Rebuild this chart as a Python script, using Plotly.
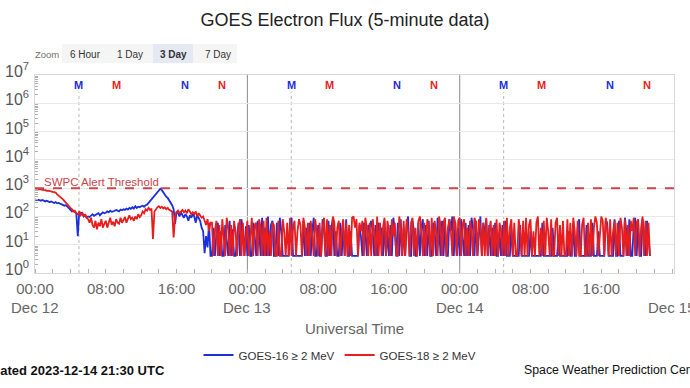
import pandas as pd
import plotly.graph_objects as go

# ---------------- data ----------------
START = "2023-12-12 00:00"
STEP = "10min"

# GOES-16 >= 2 MeV electron flux (pfu), 10-minute samples
goes16 = [
    400, 380, 390, 370, 360, 380,
    350, 340, 360, 330, 320, 340,
    310, 300, 320, 290, 300, 280,
    270, 260, 240, 250, 220, 200,
    180, 150, 160, 140, 130, 20,
    150, 120, 140, 100, 110, 90,
    100, 95, 110, 120, 105, 115,
    120, 130, 110, 125, 140, 130,
    135, 150, 140, 160, 145, 150,
    155, 170, 160, 150, 175, 165,
    180, 170, 190, 175, 200, 185,
    210, 190, 230, 200, 220, 210,
    230, 240, 220, 250, 260, 300,
    350, 400, 450, 500, 600, 720,
    800, 950, 850, 700, 600, 500,
    450, 380, 300, 250, 180, 55,
    150, 130, 100, 140, 110, 90,
    120, 100, 70, 110, 90, 120,
    100, 60, 110, 90, 70, 40,
    30, 5, 20, 8, 60, 4,
    4, 40, 4, 25, 60, 4,
    30, 4, 4, 50, 10, 4,
    70, 4, 35, 4, 4, 20,
    60, 4, 80, 30, 4, 45,
    4, 50, 4, 4, 60, 20,
    4, 70, 30, 4, 90, 4,
    40, 4, 100, 4, 50, 70,
    4, 4, 60, 4, 90, 30,
    4, 4, 4, 4, 4, 60,
    90, 4, 4, 4, 4, 4,
    4, 4, 70, 4, 40, 4,
    60, 4, 30, 90, 4, 4,
    50, 4, 4, 80, 30, 4,
    4, 70, 4, 40, 90, 4,
    30, 4, 4, 60, 4, 40,
    4, 80, 4, 4, 30, 4,
    4, 4, 4, 4, 50, 20,
    4, 60, 30, 4, 50, 40,
    70, 30, 4, 50, 4, 60,
    20, 40, 4, 70, 4, 30,
    4, 50, 4, 90, 30, 4,
    60, 4, 80, 4, 40, 4,
    50, 100, 4, 4, 70, 30,
    4, 4, 60, 4, 40, 80,
    4, 50, 4, 70, 4, 4,
    60, 30, 4, 90, 40, 4,
    70, 4, 50, 4, 4, 80,
    30, 100, 4, 60, 4, 40,
    4, 80, 20, 4, 60, 4,
    50, 4, 90, 40, 4, 70,
    4, 30, 100, 4, 60, 20,
    80, 4, 50, 4, 40, 4,
    60, 4, 4, 30, 4, 50,
    4, 70, 4, 4, 4, 40,
    4, 4, 4, 4, 4, 50,
    4, 4, 4, 4, 4, 4,
    30, 4, 4, 4, 4, 4,
    4, 4, 60, 4, 4, 4,
    4, 4, 4, 40, 4, 4,
    4, 20, 4, 4, 4, 4,
    4, 4, 30, 4, 4, 60,
    4, 4, 40, 80, 4, 4,
    4, 4, 50, 4, 4, 4,
    60, 4, 4, 4, 30, 4,
    4, 4, 4, 70, 60, 4,
    4, 4, 4, 80, 4, 4,
    70, 4, 4, 4, 90, 30,
    4, 80, 4, 4, 50, 90,
    4, 60, 4, 4, 80, 30,
    4, 70, 20, 4,
]

# GOES-18 >= 2 MeV electron flux (pfu), 10-minute samples
goes18 = [
    1000, 950, 900, 920, 880, 870,
    860, 850, 800, 820, 780, 760,
    740, 720, 700, 600, 550, 500,
    450, 400, 350, 300, 250, 220,
    200, 180, 150, 160, 130, 120,
    140, 110, 130, 100, 120, 90,
    80, 60, 90, 50, 40, 70,
    35, 60, 45, 80, 40, 55,
    70, 40, 60, 90, 50, 65,
    45, 80, 60, 55, 90, 60,
    75, 95, 60, 85, 110, 80,
    90, 70, 100, 80, 120, 95,
    110, 150, 130, 180, 160, 200,
    170, 190, 16, 150, 180, 210,
    230, 200, 220, 190, 210, 180,
    200, 170, 160, 150, 18, 100,
    140, 160, 130, 150, 170, 140,
    160, 130, 180, 150, 120, 140,
    120, 150, 100, 130, 110, 90,
    100, 70, 50, 80, 30, 60,
    60, 4, 30, 70, 4, 50,
    4, 80, 20, 4, 90, 40,
    4, 50, 4, 70, 30, 4,
    40, 80, 4, 60, 4, 20,
    70, 4, 30, 90, 4, 50,
    60, 4, 80, 40, 4, 70,
    4, 90, 4, 30, 4, 60,
    50, 4, 4, 70, 4, 4,
    80, 30, 4, 60, 4, 90,
    4, 40, 70, 4, 30, 80,
    50, 4, 90, 40, 4, 60,
    4, 70, 20, 4, 80, 30,
    4, 60, 4, 40, 90, 4,
    80, 4, 50, 4, 100, 60,
    4, 40, 70, 4, 30, 80,
    4, 60, 4, 50, 4, 90,
    100, 40, 80, 4, 60, 30,
    70, 4, 90, 40, 4, 60,
    4, 80, 30, 4, 100, 4,
    60, 4, 40, 90, 4, 70,
    30, 4, 80, 20, 60, 4,
    4, 100, 40, 4, 70, 4,
    80, 30, 4, 60, 90, 4,
    40, 4, 70, 100, 30, 4,
    60, 4, 80, 40, 4, 90,
    4, 70, 30, 4, 100, 50,
    4, 60, 90, 4, 40, 80,
    30, 4, 100, 60, 4, 70,
    90, 4, 50, 80, 4, 40,
    4, 70, 30, 4, 90, 60,
    4, 80, 40, 4, 60, 4,
    90, 4, 30, 70, 4, 50,
    4, 80, 4, 60, 30, 4,
    70, 4, 90, 4, 40, 80,
    4, 60, 4, 4, 80, 30,
    4, 70, 4, 90, 4, 50,
    80, 4, 30, 4, 60, 100,
    4, 40, 4, 70, 4, 90,
    30, 4, 80, 4, 4, 60,
    90, 4, 50, 4, 70, 4,
    4, 80, 4, 60, 4, 90,
    30, 4, 70, 4, 4, 50,
    90, 4, 4, 60, 4, 80,
    4, 40, 100, 60, 4, 30,
    100, 70, 4, 90, 40, 4,
    80, 4, 30, 70, 4, 60,
    4, 90, 40, 4, 80, 4,
    50, 4, 70, 30, 90, 4,
    60, 80, 4, 40, 100, 4,
    70, 4, 60, 4,
]

alert_threshold = 1000

# magnetic midnight (M) / noon (N) markers: time, label, satellite
marker_times = [
    "2023-12-12 04:58", "2023-12-12 09:14", "2023-12-12 16:58", "2023-12-12 21:08",
    "2023-12-13 04:58", "2023-12-13 09:14", "2023-12-13 16:58", "2023-12-13 21:08",
    "2023-12-14 04:58", "2023-12-14 09:14", "2023-12-14 16:58", "2023-12-14 21:08",
]
marker_labels = ["M", "M", "N", "N"] * 3
marker_sats = ["16", "18", "16", "18"] * 3

day_lines = ["2023-12-13 00:00", "2023-12-14 00:00"]

tick_vals = [
    "2023-12-12 00:00", "2023-12-12 08:00", "2023-12-12 16:00",
    "2023-12-13 00:00", "2023-12-13 08:00", "2023-12-13 16:00",
    "2023-12-14 00:00", "2023-12-14 08:00", "2023-12-14 16:00",
    "2023-12-15 00:00",
]
tick_text = ["00:00", "08:00", "16:00"] * 3 + ["00:00"]
date_vals = ["2023-12-12 00:00", "2023-12-13 00:00", "2023-12-14 00:00", "2023-12-15 00:00"]
date_text = ["Dec 12", "Dec 13", "Dec 14", "Dec 15"]

y_decades = [0, 1, 2, 3, 4, 5, 6, 7]

zoom_buttons = ["6 Hour", "1 Day", "3 Day", "7 Day"]
selected_button = "3 Day"

# ---------------- layout helpers ----------------
W, H = 690, 388
ML, MR, MT, MB = 35, 16, 75, 115
PW, PH = W - ML - MR, H - MT - MB


def px(x):
    return (x - ML) / PW


def py(y):
    return (H - MB - y) / PH


BLUE = "#1c2fdc"
RED = "#e81e1e"
THRESH = "#c9464b"
FONT = "Liberation Sans, Arial, Helvetica, sans-serif"

t16 = pd.date_range(START, periods=len(goes16), freq=STEP)
t18 = pd.date_range(START, periods=len(goes18), freq=STEP)

fig = go.Figure()
fig.add_trace(go.Scatter(x=t16, y=goes16, mode="lines", name="GOES-16 ≥ 2 MeV",
                         line=dict(color=BLUE, width=1.8)))
fig.add_trace(go.Scatter(x=t18, y=goes18, mode="lines", name="GOES-18 ≥ 2 MeV",
                         line=dict(color=RED, width=1.8)))

shapes = []
for d in day_lines:
    shapes.append(dict(type="line", xref="x", yref="paper", x0=d, x1=d, y0=0, y1=1,
                       line=dict(color="#8a8a8a", width=1), layer="below"))
for t, lab, s in zip(marker_times, marker_labels, marker_sats):
    if s == "16" and lab == "M":
        shapes.append(dict(type="line", xref="x", yref="paper", x0=t, x1=t, y0=0, y1=py(92),
                           line=dict(color="#b8b8b8", width=1, dash="dot"), layer="below"))
shapes.append(dict(type="line", xref="paper", yref="y", x0=0, x1=1,
                   y0=alert_threshold, y1=alert_threshold,
                   line=dict(color=THRESH, width=2, dash="dash")))

# zoom button bar
shapes.append(dict(type="rect", xref="paper", yref="paper", x0=px(62), x1=px(237),
                   y0=py(63), y1=py(44), fillcolor="#f5f5f5", line=dict(width=0)))
btn_centers = [85, 130, 173, 218]
btn_halfw = [22, 18, 20, 18]
annotations = [dict(text="Zoom", xref="paper", yref="paper", x=px(47), y=py(54),
                    xanchor="center", yanchor="middle",
                    showarrow=False, font=dict(size=9.5, color="#707070", family=FONT))]
for lab, c, hw in zip(zoom_buttons, btn_centers, btn_halfw):
    if lab == selected_button:
        shapes.append(dict(type="rect", xref="paper", yref="paper", x0=px(c - hw), x1=px(c + hw),
                           y0=py(63), y1=py(44), fillcolor="#e4e9f4", line=dict(width=0)))
        txt = "<b>" + lab + "</b>"
    else:
        txt = lab
    annotations.append(dict(text=txt, xref="paper", yref="paper", x=px(c), y=py(54),
                            xanchor="center", yanchor="middle",
                            showarrow=False, font=dict(size=10, color="#333333", family=FONT)))

for t, lab, s in zip(marker_times, marker_labels, marker_sats):
    annotations.append(dict(text="<b>" + lab + "</b>", xref="x", yref="paper", x=t, y=py(85),
                            xanchor="center", yanchor="middle", showarrow=False,
                            font=dict(size=11, color=BLUE if s == "16" else RED, family=FONT)))

# y-axis decade labels (10^n), drawn slightly above their grid lines as in the original
for k in y_decades:
    annotations.append(dict(text="10<sup>%d</sup>" % k, xref="paper", yref="y", x=px(31), y=k,
                            xanchor="right", yanchor="middle", yshift=5, showarrow=False,
                            font=dict(size=16, color="#555555", family=FONT)))

# second line of date tick labels
for d, txt in zip(date_vals, date_text):
    annotations.append(dict(text=txt, xref="x", yref="paper", x=d, y=py(307),
                            xanchor="center", yanchor="middle", showarrow=False,
                            font=dict(size=15, color="#666666", family=FONT)))

annotations.append(dict(text="Universal Time", xref="paper", yref="paper", x=px(354), y=py(328),
                        xanchor="center", yanchor="middle", showarrow=False,
                        font=dict(size=15, color="#666666", family=FONT)))
annotations.append(dict(text="SWPC Alert Threshold", xref="paper", yref="y", x=px(42),
                        y=3, xanchor="left", yanchor="middle", yshift=6, showarrow=False,
                        font=dict(size=11.5, color=THRESH, family=FONT)))
annotations.append(dict(text="<b>Updated 2023-12-14 21:30 UTC</b>", xref="paper", yref="paper",
                        x=px(167), y=py(370), xanchor="right", yanchor="middle", showarrow=False,
                        font=dict(size=13, color="#111111", family=FONT)))
annotations.append(dict(text="Space Weather Prediction Center", xref="paper", yref="paper",
                        x=px(522), y=py(370), xanchor="left", yanchor="middle", showarrow=False,
                        font=dict(size=12.3, color="#111111", family=FONT)))

fig.update_layout(
    width=W, height=H,
    margin=dict(l=ML, r=MR, t=MT, b=MB, autoexpand=False),
    paper_bgcolor="white", plot_bgcolor="white",
    font=dict(family=FONT),
    title=dict(text="GOES Electron Flux (5-minute data)", x=0.5, xanchor="center",
               xref="container", y=1 - 20 / H, yanchor="middle",
               font=dict(size=18, color="#222222", family=FONT)),
    showlegend=True,
    legend=dict(orientation="h", x=px(340), xanchor="center", y=py(355), yanchor="middle",
                font=dict(size=11.5, color="#333333", family=FONT), itemwidth=30,
                bgcolor="rgba(0,0,0,0)"),
    shapes=shapes,
    annotations=annotations,
    hovermode=False,
)
fig.update_xaxes(
    type="date", range=["2023-12-12 00:00", "2023-12-15 00:13"],
    tickmode="array", tickvals=tick_vals, ticktext=tick_text,
    tickfont=dict(size=15, color="#666666", family=FONT), ticklabelstandoff=2,
    showgrid=False, zeroline=False, automargin=False,
    showline=True, linecolor="#d8d8d8", linewidth=1, mirror=True,
    ticks="",
    minor=dict(ticks="inside", ticklen=4, tickcolor="#b0b0b0", dtick=7200000,
               showgrid=False),
)
fig.update_yaxes(
    type="log", range=[0, 7], dtick=1, showticklabels=False,
    showgrid=True, gridcolor="#e8e8e8", gridwidth=1, zeroline=False, automargin=False,
    showline=True, linecolor="#d8d8d8", linewidth=1, mirror=True,
    ticks="",
    minor=dict(ticks="inside", ticklen=3, tickcolor="#b0b0b0", showgrid=False),
)

fig.write_html("out.html", config={"displayModeBar": False},
               post_script="document.body.style.margin='0';")
